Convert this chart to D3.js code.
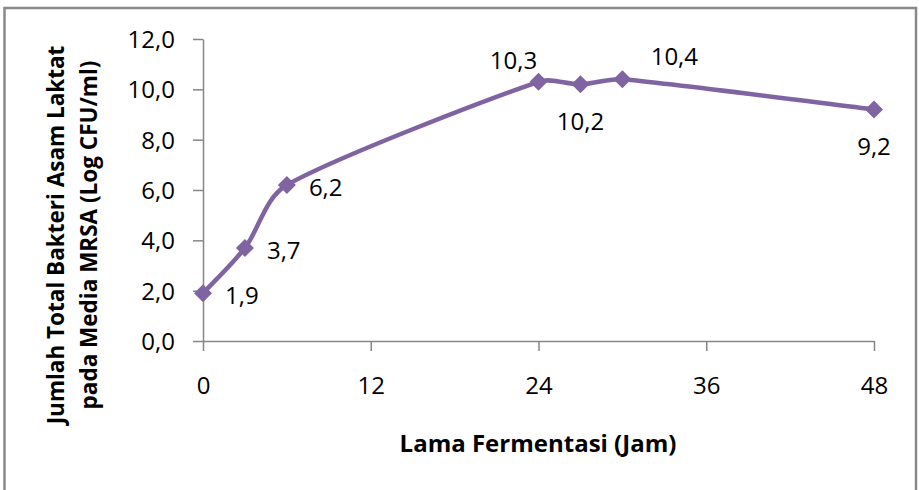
<!DOCTYPE html>
<html>
<head>
<meta charset="utf-8">
<script src="https://cdn.jsdelivr.net/npm/d3@7"></script>
<style>
  html, body { margin: 0; padding: 0; background: #fff; }
  svg { display: block; }
  text { font-family: "Open Sans", Lato, sans-serif; fill: #000; }
</style>
</head>
<body>
<svg id="chart" width="919" height="490"></svg>
<script>
// ---- data ----
const hours = [0, 3, 6, 24, 27, 30, 48];
const values = [1.9, 3.7, 6.2, 10.3, 10.2, 10.4, 9.2];
const labelPlacement = ["right", "right", "right", "above", "below", "aboveRight", "below"];
const xTicks = [0, 12, 24, 36, 48];
const yTicks = [0, 2, 4, 6, 8, 10, 12];
const xTitle = "Lama Fermentasi (Jam)";
const yTitleLines = ["Jumlah Total Bakteri Asam Laktat", "pada Media MRSA (Log CFU/ml)"];

// ---- layout ----
const W = 919, H = 490;
const plot = { left: 203, right: 874, top: 39, bottom: 341 };
const color = "#8064A2";
const axisColor = "#868686";
const fmt = v => d3.format(".1f")(v).replace(".", ",");

const svg = d3.select("#chart");

// outer frame
svg.append("rect")
  .attr("x", 4.5).attr("y", 8).attr("width", 911.5).attr("height", 500)
  .attr("fill", "none").attr("stroke", "#898989").attr("stroke-width", 2.5);

const x = d3.scaleLinear().domain([0, 48]).range([plot.left, plot.right]);
const y = d3.scaleLinear().domain([0, 12]).range([plot.bottom, plot.top]);

// y axis
const yAxis = svg.append("g")
  .attr("transform", `translate(${plot.left},0)`)
  .call(d3.axisLeft(y).tickValues(yTicks).tickFormat(fmt).tickSize(10).tickSizeOuter(0).tickPadding(18));
// x axis
const xAxis = svg.append("g")
  .attr("transform", `translate(0,${plot.bottom})`)
  .call(d3.axisBottom(x).tickValues(xTicks).tickFormat(d3.format("d")).tickSize(10).tickSizeOuter(0).tickPadding(26));

[yAxis, xAxis].forEach(g => {
  g.select(".domain").attr("stroke", axisColor).attr("stroke-width", 1.5);
  g.selectAll(".tick line").attr("stroke", axisColor).attr("stroke-width", 1.5);
  g.selectAll(".tick text").attr("font-size", 24).attr("font-family", "'Open Sans', sans-serif").attr("fill", "#000");
});
yAxis.selectAll(".tick text").attr("dy", "0.36em");
xAxis.selectAll(".tick text").attr("dy", "0.71em");

// line: Excel-style smoothed curve (Bezier with 1/6 tangents, arms capped at 1/3 of segment)
const pts = hours.map((h, i) => [h, values[i]]);
function smoothPath(p) {
  const dist = (a, b) => Math.hypot(b[0] - a[0], b[1] - a[1]);
  let d = `M${p[0][0]},${p[0][1]}`;
  for (let i = 0; i < p.length - 1; i++) {
    const p0 = p[Math.max(i - 1, 0)], p1 = p[i], p2 = p[i + 1], p3 = p[Math.min(i + 2, p.length - 1)];
    const seg = dist(p1, p2) / 3;
    let t1 = [(p2[0] - p0[0]) / 6, (p2[1] - p0[1]) / 6];
    let l1 = Math.hypot(t1[0], t1[1]);
    if (l1 > seg) t1 = [t1[0] * seg / l1, t1[1] * seg / l1];
    let t2 = [(p3[0] - p1[0]) / 6, (p3[1] - p1[1]) / 6];
    let l2 = Math.hypot(t2[0], t2[1]);
    if (l2 > seg) t2 = [t2[0] * seg / l2, t2[1] * seg / l2];
    d += `C${p1[0] + t1[0]},${p1[1] + t1[1]} ${p2[0] - t2[0]},${p2[1] - t2[1]} ${p2[0]},${p2[1]}`;
  }
  return d;
}
svg.append("path")
  .datum(pts)
  .attr("d", d => smoothPath(d.map(q => [x(q[0]), y(q[1])])))
  .attr("fill", "none").attr("stroke", color).attr("stroke-width", 4.5)
  .attr("stroke-linejoin", "round");

// markers
const r = 9;
svg.append("g").selectAll("path")
  .data(pts)
  .join("path")
  .attr("d", d => {
    const cx = x(d[0]), cy = y(d[1]);
    return `M${cx},${cy - r}L${cx + r},${cy}L${cx},${cy + r}L${cx - r},${cy}Z`;
  })
  .attr("fill", color);

// data labels
const offsets = {
  right: { dx: 22, dy: 2, anchor: "start" },
  above: { dx: -25, dy: -21, anchor: "middle" },
  below: { dx: 0, dy: 37, anchor: "middle" },
  aboveRight: { dx: 52, dy: -23, anchor: "middle" }
};
svg.append("g").selectAll("text")
  .data(pts)
  .join("text")
  .each(function (d, i) {
    const o = offsets[labelPlacement[i]];
    d3.select(this)
      .attr("x", x(d[0]) + o.dx)
      .attr("y", y(d[1]) + o.dy)
      .attr("dy", "0.36em")
      .attr("text-anchor", o.anchor)
      .attr("font-size", 24)
      .text(fmt(d[1]));
  });

// x title
svg.append("text")
  .attr("x", 538)
  .attr("y", 443)
  .attr("dy", "0.36em")
  .attr("text-anchor", "middle")
  .attr("font-size", 24).attr("font-weight", "bold")
  .text(xTitle);

// y title
const yt = svg.append("text")
  .attr("transform", "translate(0,235) rotate(-90)")
  .attr("text-anchor", "middle")
  .attr("font-size", 22.5).attr("font-weight", "bold");
yTitleLines.forEach((t, i) => {
  yt.append("tspan").attr("x", 0).attr("y", 64 + i * 33).text(t);
});
</script>
</body>
</html>
